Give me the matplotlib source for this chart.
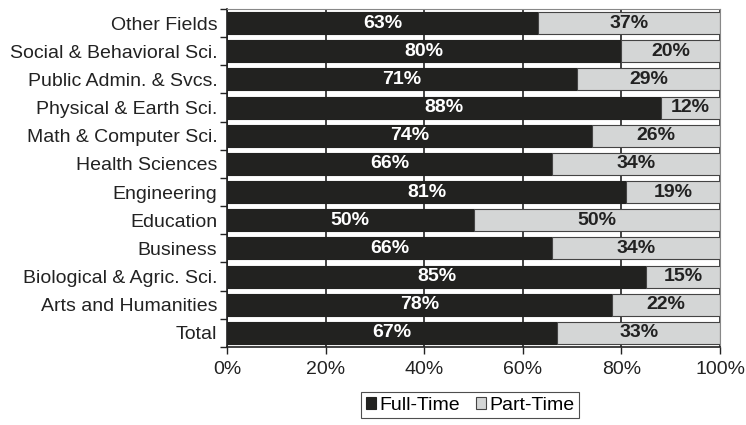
import numpy as np
import matplotlib
matplotlib.use("Agg")
import matplotlib.pyplot as plt
from matplotlib.ticker import FixedLocator, PercentFormatter

plt.rcParams["font.family"] = ["Liberation Sans", "DejaVu Sans"]

# bottom to top
fields = ["Total", "Arts and Humanities", "Biological & Agric. Sci.", "Business",
          "Education", "Engineering", "Health Sciences", "Math & Computer Sci.",
          "Physical & Earth Sci.", "Public Admin. & Svcs.", "Social & Behavioral Sci.",
          "Other Fields"]
full_time = [67, 78, 85, 66, 50, 81, 66, 74, 88, 71, 80, 63]
part_time = [33, 22, 15, 34, 50, 19, 34, 26, 12, 29, 20, 37]

DARK = "#222220"
LIGHT = "#d4d6d6"
FS = 14

fig = plt.figure(figsize=(7.46, 4.25), dpi=100)
ax = fig.add_axes([0.3043, 0.1835, 0.6610, 0.7955])

y = np.arange(len(fields))
ft = ax.barh(y, full_time, height=0.78, color=DARK, edgecolor=DARK, linewidth=0.8,
             label="Full-Time", zorder=2)
pt = ax.barh(y, part_time, left=full_time, height=0.78, color=LIGHT, edgecolor="#444444",
             linewidth=0.8, label="Part-Time", zorder=2)

for i in range(len(fields)):
    ax.text(full_time[i] / 2, y[i], f"{full_time[i]}%", ha="center", va="center",
            color="white", fontsize=FS, fontweight="bold", zorder=3)
    ax.text(full_time[i] + part_time[i] / 2, y[i], f"{part_time[i]}%", ha="center",
            va="center", color="#222222", fontsize=FS, fontweight="bold", zorder=3)

ax.set_xlim(0, 100)
ax.set_ylim(-0.5, len(fields) - 0.5)
ax.xaxis.set_major_locator(FixedLocator([0, 20, 40, 60, 80, 100]))
ax.xaxis.set_major_formatter(PercentFormatter(decimals=0))
ax.set_yticks(y)
ax.set_yticklabels(fields)
ax.yaxis.set_minor_locator(FixedLocator(np.arange(-0.5, len(fields), 1.0)))
ax.tick_params(axis="y", which="major", length=0, pad=7, labelsize=FS, labelcolor="#222222")
ax.tick_params(axis="y", which="minor", length=5, width=1, color="#222222")
ax.tick_params(axis="x", which="major", length=5, width=1, color="#222222",
               labelsize=FS, labelcolor="#222222", pad=5)
ax.grid(axis="x", color="#222222", linewidth=1.2, zorder=1)
ax.set_axisbelow(True)

for side in ["top", "right"]:
    ax.spines[side].set_color("#888888")
for side in ["left", "bottom"]:
    ax.spines[side].set_color("#222222")
    ax.spines[side].set_linewidth(1.2)

fig.legend(handles=[ft, pt], loc="center", bbox_to_anchor=(0.63, 0.047), ncol=2,
           fontsize=FS, frameon=True, fancybox=False, edgecolor="#222222",
           handlelength=0.55, handleheight=0.55, handletextpad=0.15, columnspacing=0.8,
           borderpad=0.25, borderaxespad=0.3)
fig.legends[0].get_frame().set_linewidth(0.8)

fig.savefig("out.png", dpi=100)
